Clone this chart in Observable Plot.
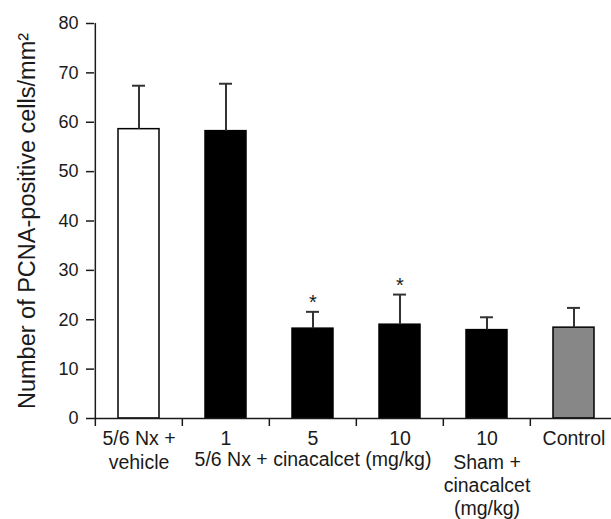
<!DOCTYPE html>
<html>
<head>
<meta charset="utf-8">
<script src="https://cdn.jsdelivr.net/npm/d3@7"></script>
<script src="https://cdn.jsdelivr.net/npm/@observablehq/plot@0.6"></script>
<style>
  html, body { margin: 0; padding: 0; background: #fff; }
  #chart svg { display: block; }
</style>
</head>
<body>
<div id="chart"></div>
<script>
// ---- data ----
const categories  = ["vehicle", "cin1", "cin5", "cin10", "sham10", "control"];
const tickLabels  = ["5/6 Nx +\nvehicle", "1", "5", "10", "10\nSham +\ncinacalcet\n(mg/kg)", "Control"];
const groups      = ["vehicle", "cinacalcet", "cinacalcet", "cinacalcet", "sham", "control"];
const means       = [58.6, 58.2, 18.2, 19.0, 17.9, 18.4];
const errorTops   = [67.4, 67.8, 21.6, 25.1, 20.5, 22.4];
const significant = [false, false, true, true, false, false];
const groupLabel  = "5/6 Nx + cinacalcet (mg/kg)";
const groupLabelAt = "cin5";
const yTicks      = [0, 10, 20, 30, 40, 50, 60, 70, 80];
const yTitle      = "Number of PCNA-positive cells/mm²";

const data = categories.map((id, i) => ({
  id, label: tickLabels[i], group: groups[i], value: means[i], top: errorTops[i], sig: significant[i]
}));
const labelOf = new Map(categories.map((c, i) => [c, tickLabels[i]]));

// ---- layout ----
const W = 611, H = 519;
const mL = 94, mR = 0, mT = 23, mB = 101;
const xRange = [94, 618];
const step = (xRange[1] - xRange[0]) / categories.length;
const font = "'Liberation Sans', Arial, Helvetica, sans-serif";
const ink = "#1a1a1a";
const labelSize = 19.5, labelLH = 1.2, labelPad = 10;

const chart = Plot.plot({
  width: W, height: H,
  marginLeft: mL, marginRight: mR, marginTop: mT, marginBottom: mB,
  style: { fontFamily: font, color: ink, background: "#fff", overflow: "visible" },
  x: { type: "band", domain: categories, range: xRange, paddingInner: 0.53, paddingOuter: 0.265, axis: null },
  y: { domain: [0, 80], axis: null },
  color: { domain: ["vehicle", "cinacalcet", "sham", "control"], range: ["#ffffff", "#000000", "#000000", "#878787"] },
  marks: [
    // bars
    Plot.barY(data, { x: "id", y: "value", fill: "group", stroke: "#000", strokeWidth: 1.5 }),
    // error bars (upper only)
    Plot.ruleX(data, { x: "id", y1: "value", y2: "top", stroke: "#333", strokeWidth: 2 }),
    Plot.tickY(data, { x: "id", y: "top", stroke: "#333", strokeWidth: 2, insetLeft: 14, insetRight: 14 }),
    // significance stars
    Plot.text(data.filter(d => d.sig), { x: "id", y: "top", text: () => "*", dy: -9, fontSize: 20, fill: ink }),
    // x axis line
    Plot.ruleY([0], { stroke: ink, strokeWidth: 1.5 }),
    // y axis line
    Plot.ruleX([categories[0]], { x: d => d, dx: -step / 2, y1: 0, y2: 80, stroke: ink, strokeWidth: 1.5 }),
    // x ticks between categories (pointing down)
    Plot.ruleX(categories, { x: d => d, dx: -step / 2, y1: 0, y2: 0, insetBottom: -8, stroke: ink, strokeWidth: 1.5 }),
    // y axis ticks & labels
    Plot.axisY({ ticks: yTicks, tickSize: 8, tickPadding: 8, fontSize: 18, label: null, stroke: ink, strokeWidth: 1.5 }),
    // x tick labels
    Plot.axisX({ tickSize: 0, tickPadding: labelPad, fontSize: labelSize, lineHeight: labelLH, label: null, tickFormat: d => labelOf.get(d) }),
    // group label
    Plot.text([groupLabel], { x: () => groupLabelAt, frameAnchor: "bottom", lineAnchor: "top", dy: labelPad + labelSize * labelLH, fontSize: labelSize, fill: ink }),
    // y title
    Plot.text([yTitle], { frameAnchor: "left", textAnchor: "middle", rotate: -90, dx: -67.5, fontSize: 23.5, fill: ink })
  ]
});

document.getElementById("chart").appendChild(chart);
</script>
</body>
</html>
